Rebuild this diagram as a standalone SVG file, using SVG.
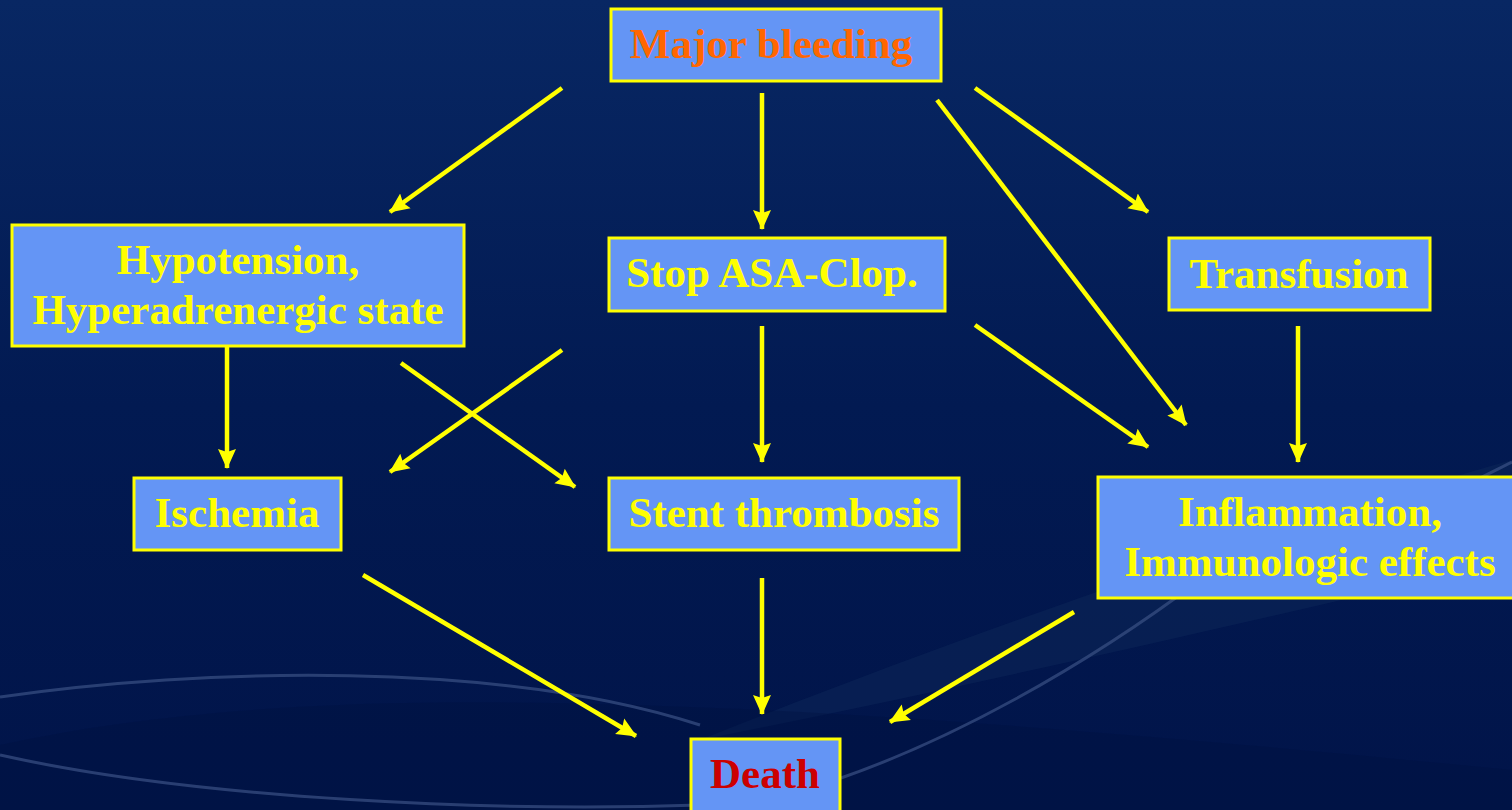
<svg xmlns="http://www.w3.org/2000/svg" width="1512" height="810" viewBox="0 0 1512 810">
<defs>
<linearGradient id="bg" x1="0" y1="0" x2="0" y2="1">
<stop offset="0" stop-color="#082763"/>
<stop offset="0.5" stop-color="#021a52"/>
<stop offset="1" stop-color="#011449"/>
</linearGradient>
<marker id="ah" markerUnits="userSpaceOnUse" markerWidth="20" markerHeight="20" viewBox="0 0 20 20" refX="19" refY="10" orient="auto">
<path d="M0,1 L20,10 L0,19 L3,10 Z" fill="#ffff00"/>
</marker>
<style>
.box{fill:#6495f5;stroke:#ffff00;stroke-width:3}
.t{font-family:"Liberation Serif","Times New Roman",serif;font-weight:bold;font-size:43px;fill:#ffff00;text-anchor:middle}
.conn line{stroke:#ffff00;stroke-width:4.5;marker-end:url(#ah)}
.sw{fill:none;stroke:#3b5184;stroke-width:3;opacity:0.7}
</style>
</defs>
<rect width="1512" height="810" fill="url(#bg)"/>
<g id="background-swooshes">
<path d="M700,740 C1000,620 1300,520 1512,460 L1512,560 C1300,610 1000,680 700,740 Z" fill="#0b2557" opacity="0.6"/>
<path d="M0,745 C300,680 700,690 1512,770 L1512,810 L0,810 Z" fill="#001040" opacity="0.35"/>
<path class="sw" d="M0,697 C200,668 500,660 700,725"/>
<path class="sw" d="M0,755 C200,800 500,812 700,805"/>
<path class="sw" d="M841,778 C950,740 1080,670 1200,580"/>
<path class="sw" d="M1430,500 C1470,485 1495,470 1512,462"/>
</g>
<g class="conn" id="connectors">
<line x1="562" y1="88" x2="390" y2="212"/>
<line x1="762" y1="93" x2="762" y2="229"/>
<line x1="975" y1="88" x2="1148" y2="212"/>
<line x1="937" y1="100" x2="1186" y2="425"/>
<line x1="227" y1="346" x2="227" y2="468"/>
<line x1="562" y1="350" x2="390" y2="472"/>
<line x1="401" y1="363" x2="575" y2="487"/>
<line x1="762" y1="326" x2="762" y2="462"/>
<line x1="975" y1="325" x2="1148" y2="447"/>
<line x1="1298" y1="326" x2="1298" y2="462"/>
<line x1="363" y1="575" x2="636" y2="736"/>
<line x1="762" y1="578" x2="762" y2="714"/>
<line x1="1074" y1="612" x2="890" y2="722"/>
</g>
<g id="major-bleeding">
<rect class="box" x="611" y="9" width="330" height="72"/>
<text class="t" x="771" y="58" style="fill:#ff6600">Major bleeding</text>
</g>
<g id="hypotension">
<rect class="box" x="12" y="225" width="452" height="121"/>
<text class="t" x="238" y="274">Hypotension,</text>
<text class="t" x="238" y="324">Hyperadrenergic state</text>
</g>
<g id="stop-asa">
<rect class="box" x="609" y="238" width="336" height="73"/>
<text class="t" x="772" y="287">Stop ASA-Clop.</text>
</g>
<g id="transfusion">
<rect class="box" x="1169" y="238" width="261" height="72"/>
<text class="t" x="1299" y="288">Transfusion</text>
</g>
<g id="ischemia">
<rect class="box" x="134" y="478" width="207" height="72"/>
<text class="t" x="237" y="527">Ischemia</text>
</g>
<g id="stent-thrombosis">
<rect class="box" x="609" y="478" width="350" height="72"/>
<text class="t" x="784" y="527">Stent thrombosis</text>
</g>
<g id="inflammation">
<rect class="box" x="1098" y="477" width="420" height="121"/>
<text class="t" x="1310" y="526">Inflammation,</text>
<text class="t" x="1310" y="576">Immunologic effects</text>
</g>
<g id="death">
<rect class="box" x="691" y="739" width="149" height="80"/>
<text class="t" x="765" y="788" style="fill:#cc0000">Death</text>
</g>
</svg>
